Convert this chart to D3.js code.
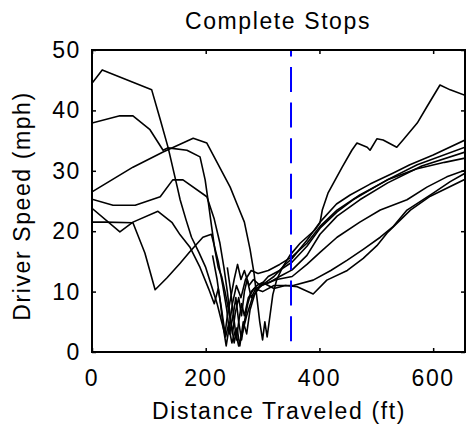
<!DOCTYPE html>
<html><head><meta charset="utf-8">
<script src="https://cdn.jsdelivr.net/npm/d3@7"></script>
<style>
html,body{margin:0;padding:0;background:#fff;}
svg{display:block;}
text{font-family:"Liberation Sans",Arial,Helvetica,sans-serif;font-size:23px;letter-spacing:1.6px;fill:#000;}
</style></head><body>
<svg id="chart" width="466" height="425"></svg>
<script>
// Axis ticks
const xTicks = [0, 200, 400, 600];
const yTicks = [0, 10, 20, 30, 40, 50];

// Location of the stop bar (ft)
const stopLine = 350;

// Speed traces, [distance (ft), speed (mph)]
const driverA = [[0,44.5],[18,46.7],[105,43.4],[120,38.5],[134,33.8],[150,27.3],[155,25.2],[165,22],[175,19],[188,16.5],[200,14],[210,11],[220,8],[228,5],[235,2.5],[240,4.5],[246,1.5],[252,3.5],[258,1],[264,3],[272,6],[282,9],[292,10.5],[305,11.5],[320,12.5],[340,14.5],[352,15.5],[378,18.5],[401,21.5],[430,24.5],[454,26],[489,27.8],[529,29.6],[559,31],[600,32.6],[656,35.1]];
const driverB = [[0,26.5],[72,30.6],[125,33.1],[178,35.4],[202,34.6],[243,27.3],[255,24.5],[268,21.5],[278,17],[285,13],[290,9],[295,5],[300,2],[304,5],[308,2.5],[313,6],[318,9.5],[325,12],[335,14],[348,16],[366,18],[392,20.2],[401,21.4],[405,23.5],[415,26.3],[440,30.6],[457,33.4],[466,34.6],[484,33.9],[489,33.4],[501,35.3],[512,35.1],[536,33.9],[547,35.1],[572,37.9],[589,40.6],[612,44.2],[630,43.4],[656,42.5]];
const driverC = [[0,37.9],[49,39.1],[72,39.1],[102,36.8],[125,33.4],[134,33.8],[167,33.4],[190,32.3],[199,28.5],[204,25.2],[210,21],[216,17],[222,14],[228,12.5],[234,10],[240,7],[246,4],[250,1.5],[255,4],[260,1],[266,5],[272,3],[278,7],[286,9.5],[296,11],[310,12.5],[330,13.5],[352,14.9],[378,17.5],[401,20.5],[431,23.2],[459,25.2],[519,28.5],[572,31],[656,33.9]];
const driverD = [[0,25.3],[37,24.3],[76,24.3],[120,25.7],[142,28.5],[160,28.5],[202,25.7],[215,22],[225,18],[232,14],[238,10],[243,6],[247,3],[252,6.5],[258,9],[263,6],[268,10],[273,12],[280,9],[288,10.5],[298,11],[312,11.5],[330,12.5],[352,13.6],[378,16],[401,19.5],[431,22.5],[471,25.2],[520,28],[580,30.8],[656,33.1]];
const driverE = [[0,23.8],[49,19.9],[72,21.5],[116,23.3],[141,21.4],[155,19.4],[172,17.4],[190,14],[205,10.5],[215,8],[222,10.5],[228,7],[234,3],[238,6],[244,9],[250,12],[256,14.5],[262,12],[268,13.5],[276,11],[284,12],[296,11],[325,12],[352,12.5],[378,14.5],[401,16.5],[431,19],[471,21.5],[507,23.5],[554,25.2],[589,27.3],[624,29],[656,30.1]];
const driverF = [[0,21.5],[23,21.5],[72,21.4],[93,16.4],[111,10.3],[132,12.3],[155,14.7],[172,16.6],[195,19],[210,19.5],[222,15],[230,11],[237,7],[242,3],[248,6],[253,9],[258,5],[263,2],[268,5],[274,8],[280,10],[290,11],[300,11.5],[320,10.5],[340,11],[361,10.8],[389,9.6],[413,11.9],[449,13.5],[477,15.5],[501,17.6],[519,19.7],[560,23.5],[595,25.8],[656,28.6]];
const driverG = [[212,16],[220,12],[226,8],[231,4],[236,1],[241,4],[247,8],[254,11],[262,9],[270,12],[280,13.5],[292,13],[310,13.5],[330,14.5],[352,15.8],[378,18],[401,20.8],[431,23.5],[471,26],[520,28.5],[570,30.3],[620,31.4],[656,32.1]];
const driverH = [[238,14],[244,10],[249,6],[254,2],[258,5],[263,8],[268,6],[275,9],[285,10.5],[300,10],[320,11],[354,11],[389,11.9],[420,13.5],[449,15.2],[477,17],[507,19],[529,20.7],[554,23.5],[600,26.3],[630,28.2],[656,29.6]];

const drivers = [driverA, driverB, driverC, driverD, driverE, driverF, driverG, driverH];

const svg = d3.select("#chart");
const x = d3.scaleLinear().domain([0, 656]).range([92, 465]);
const y = d3.scaleLinear().domain([0, 50]).range([352, 50]);

svg.append("clipPath").attr("id", "plotClip")
  .append("rect").attr("x", 92).attr("y", 50).attr("width", 373).attr("height", 302);

const plot = svg.append("g").attr("clip-path", "url(#plotClip)");

const line = d3.line().x(d => x(d[0])).y(d => y(d[1]));

plot.selectAll("path.trace").data(drivers).join("path")
  .attr("class", "trace")
  .attr("d", line)
  .attr("fill", "none")
  .attr("stroke", "#000")
  .attr("stroke-width", 1.6)
  .attr("stroke-linejoin", "round");

// stop bar marker
plot.append("path")
  .attr("d", line([[stopLine, 50], [stopLine, 0]]))
  .attr("fill", "none")
  .attr("stroke", "#0000ff")
  .attr("stroke-width", 2)
  .attr("stroke-dasharray", "25,10.6")
  .attr("stroke-dashoffset", 18.6);

// axes with inward ticks
const axStyle = g => {
  g.select(".domain").remove();
  g.selectAll(".tick line").attr("stroke", "#000").attr("stroke-width", 1.5);
};
svg.append("g").attr("transform", "translate(0,352)")
  .call(d3.axisBottom(x).tickValues(xTicks).tickSize(-4).tickFormat(""))
  .call(axStyle);
svg.append("g").attr("transform", "translate(0,50)")
  .call(d3.axisTop(x).tickValues(xTicks).tickSize(-4).tickFormat(""))
  .call(axStyle);
svg.append("g").attr("transform", "translate(92,0)")
  .call(d3.axisLeft(y).tickValues(yTicks).tickSize(-4).tickFormat(""))
  .call(axStyle);
svg.append("g").attr("transform", "translate(465,0)")
  .call(d3.axisRight(y).tickValues(yTicks).tickSize(-4).tickFormat(""))
  .call(axStyle);

svg.append("rect")
  .attr("x", x(0)).attr("y", y(50))
  .attr("width", x(656) - x(0)).attr("height", y(0) - y(50))
  .attr("fill", "none").attr("stroke", "#000").attr("stroke-width", 2);

// tick labels
svg.append("g").selectAll("text").data(xTicks).join("text")
  .attr("x", d => x(d)).attr("y", 386)
  .attr("text-anchor", "middle")
  .text(d => d);
svg.append("g").selectAll("text").data(yTicks).join("text")
  .attr("x", 81).attr("y", d => y(d) + 8)
  .attr("text-anchor", "end")
  .text(d => d);

// titles
svg.append("text").attr("x", 278).attr("y", 29).attr("text-anchor", "middle").text("Complete Stops");
svg.append("text").attr("x", 279).attr("y", 419).attr("text-anchor", "middle").text("Distance Traveled (ft)");
svg.append("text").attr("transform", "translate(30,206) rotate(-90)").attr("text-anchor", "middle").text("Driver Speed (mph)");
</script>
</body></html>
